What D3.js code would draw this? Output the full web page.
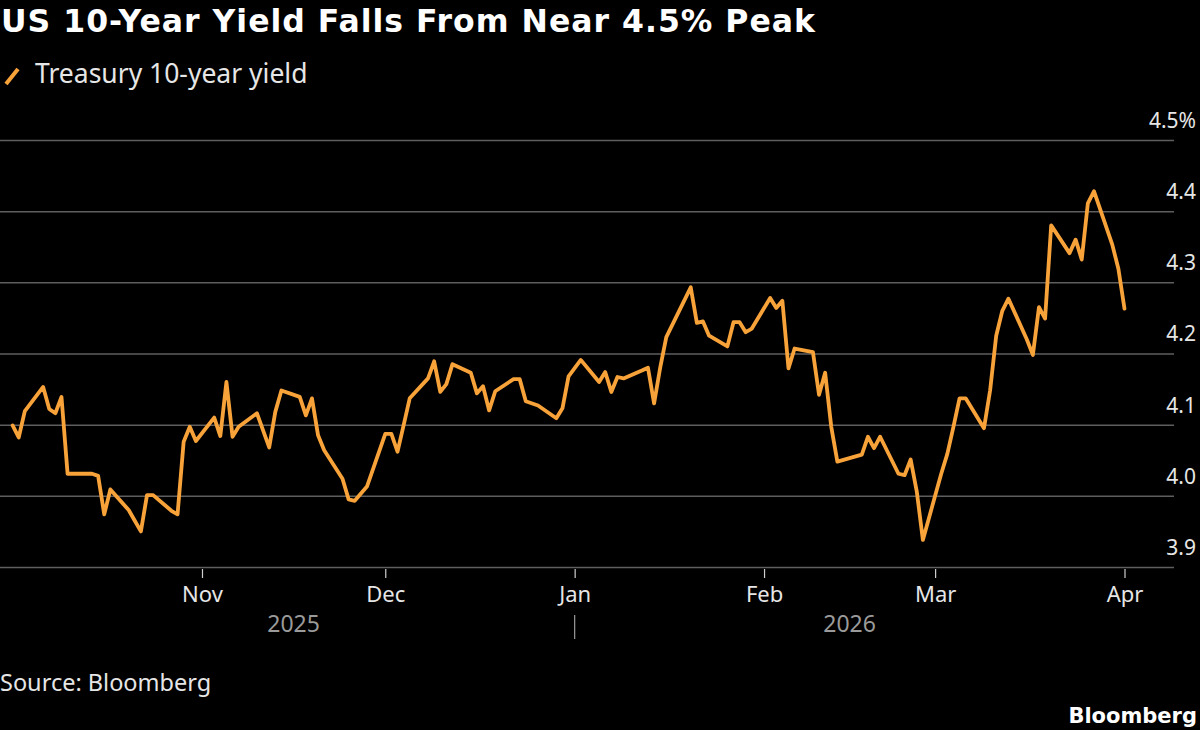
<!DOCTYPE html>
<html>
<head>
<meta charset="utf-8">
<script src="https://cdn.jsdelivr.net/npm/d3@7"></script>
<style>
  html, body { margin: 0; padding: 0; background: #000; }
  svg { display: block; }
  text { font-family: "Noto Sans", Lato, sans-serif; }
</style>
</head>
<body>
<div id="chart"></div>
<script>
// daily closes
const dates = [
  "2025-10-01","2025-10-02","2025-10-03","2025-10-06","2025-10-07","2025-10-08","2025-10-09","2025-10-10",
  "2025-10-14","2025-10-15","2025-10-16","2025-10-17","2025-10-20","2025-10-21","2025-10-22","2025-10-23","2025-10-24",
  "2025-10-27","2025-10-28","2025-10-29","2025-10-30","2025-10-31",
  "2025-11-03","2025-11-04","2025-11-05","2025-11-06","2025-11-07","2025-11-10","2025-11-12","2025-11-13","2025-11-14",
  "2025-11-17","2025-11-18","2025-11-19","2025-11-20","2025-11-21","2025-11-24","2025-11-25","2025-11-26","2025-11-28",
  "2025-12-01","2025-12-02","2025-12-03","2025-12-04","2025-12-05","2025-12-08","2025-12-09","2025-12-10","2025-12-11","2025-12-12",
  "2025-12-15","2025-12-16","2025-12-17","2025-12-18","2025-12-19","2025-12-22","2025-12-23","2025-12-24","2025-12-26",
  "2025-12-29","2025-12-30","2025-12-31",
  "2026-01-02","2026-01-05","2026-01-06","2026-01-07","2026-01-08","2026-01-09","2026-01-12","2026-01-13","2026-01-14",
  "2026-01-15","2026-01-16","2026-01-20","2026-01-21","2026-01-22","2026-01-23","2026-01-26","2026-01-27","2026-01-28",
  "2026-01-29","2026-01-30",
  "2026-02-02","2026-02-03","2026-02-04","2026-02-05","2026-02-06","2026-02-09","2026-02-10","2026-02-11","2026-02-12",
  "2026-02-13","2026-02-17","2026-02-18","2026-02-19","2026-02-20","2026-02-23","2026-02-24","2026-02-25","2026-02-26","2026-02-27",
  "2026-03-02","2026-03-03","2026-03-04","2026-03-05","2026-03-06","2026-03-09","2026-03-10","2026-03-11","2026-03-12","2026-03-13",
  "2026-03-16","2026-03-17","2026-03-18","2026-03-19","2026-03-20","2026-03-23","2026-03-24","2026-03-25","2026-03-26","2026-03-27",
  "2026-03-30","2026-03-31","2026-04-01"
];
const yields = [
  4.099,4.082,4.119,4.153,4.122,4.116,4.139,4.031,
  4.031,4.028,3.974,4.009,3.980,3.965,3.950,4.001,4.001,
  3.979,3.974,4.076,4.097,4.077,
  4.110,4.084,4.160,4.083,4.097,4.116,4.068,4.118,4.148,
  4.139,4.113,4.137,4.085,4.064,4.024,3.995,3.993,4.013,
  4.087,4.087,4.062,4.099,4.137,4.165,4.189,4.146,4.157,4.185,
  4.173,4.144,4.154,4.120,4.147,4.164,4.164,4.133,4.127,
  4.109,4.123,4.168,
  4.191,4.160,4.174,4.146,4.167,4.165,4.176,4.180,4.130,
  4.180,4.223,4.293,4.243,4.245,4.225,4.210,4.244,4.244,
  4.230,4.235,
  4.278,4.264,4.274,4.179,4.207,4.202,4.142,4.173,4.097,
  4.048,4.058,4.083,4.067,4.083,4.031,4.029,4.051,4.006,3.938,
  4.031,4.059,4.097,4.137,4.137,4.095,4.148,4.225,4.260,4.277,
  4.220,4.198,4.265,4.249,4.380,4.341,4.360,4.332,4.411,4.428,
  4.353,4.319,4.263
];

const yTicks = [3.9, 4.0, 4.1, 4.2, 4.3, 4.4, 4.5];
const monthTicks = ["2025-11-01","2025-12-01","2026-01-01","2026-02-01","2026-03-01","2026-04-01"];
const yearLabels = [
  { label: "2025", from: "2025-10-01", to: "2026-01-01" },
  { label: "2026", from: "2026-01-01", to: "2026-04-01" }
];

const title = "US 10-Year Yield Falls From Near 4.5% Peak";
const seriesName = "Treasury 10-year yield";
const source = "Source: Bloomberg";

const W = 1200, H = 730;
const lineColor = "#f8a23a";
const parse = d3.utcParse("%Y-%m-%d");

const data = dates.map((d, i) => ({ date: parse(d), value: yields[i] }));

const gridRight = 1174;
const x = d3.scaleUtc()
  .domain([parse("2025-10-01"), parse("2026-04-01")])
  .range([12.6, 1124.5]);
const y = d3.scaleLinear().domain([3.9, 4.5]).range([567, 140]);

const svg = d3.select("#chart").append("svg")
  .attr("width", W)
  .attr("height", H);

svg.append("rect").attr("width", W).attr("height", H).attr("fill", "#000");

// title + legend
svg.append("text")
  .attr("x", 1).attr("y", 32)
  .attr("fill", "#fff")
  .style("font-family", "'DejaVu Sans', sans-serif")
  .style("font-weight", "bold")
  .style("font-size", "31.5px")
  .style("letter-spacing", "1px")
  .text(title);

svg.append("line")
  .attr("x1", 6).attr("y1", 84).attr("x2", 18).attr("y2", 69)
  .attr("stroke", lineColor).attr("stroke-width", 4);

svg.append("text")
  .attr("x", 35).attr("y", 83)
  .attr("fill", "#e6e6e6")
  .style("font-size", "26.5px")
  .text(seriesName);

// y grid
const yAxis = svg.append("g")
  .attr("transform", `translate(${gridRight},0)`)
  .call(d3.axisLeft(y)
    .tickValues(yTicks)
    .tickSize(gridRight)
    .tickFormat(d => d === 4.5 ? "4.5%" : d3.format(".1f")(d)));

yAxis.select(".domain").remove();
yAxis.selectAll(".tick line").attr("stroke", "#5e5e5e").attr("stroke-width", 1.5);
yAxis.selectAll(".tick text")
  .attr("x", 1196 - gridRight)
  .attr("dy", "-0.6em")
  .attr("text-anchor", "end")
  .attr("fill", "#e6e6e6")
  .style("font-size", "21px")
  .style("font-family", "'Noto Sans', sans-serif");

// x axis
const xAxis = svg.append("g")
  .attr("transform", `translate(0,${y(3.9)})`)
  .call(d3.axisBottom(x)
    .tickValues(monthTicks.map(parse))
    .tickSize(11)
    .tickPadding(8)
    .tickFormat(d3.utcFormat("%b")));

xAxis.select(".domain").remove();
xAxis.selectAll(".tick line").attr("stroke", "#cfcfcf").attr("stroke-width", 1.2).attr("y1", 2);
xAxis.selectAll(".tick text")
  .attr("fill", "#e6e6e6")
  .style("font-size", "22px")
  .style("font-family", "'Noto Sans', sans-serif");

svg.append("g")
  .selectAll("text")
  .data(yearLabels)
  .join("text")
    .attr("x", d => (x(parse(d.from)) + x(parse(d.to))) / 2)
    .attr("y", 632)
    .attr("text-anchor", "middle")
    .attr("fill", "#9a9a9a")
    .style("font-size", "23px")
    .text(d => d.label);

// year separator at Jan
svg.append("line")
  .attr("x1", x(parse("2026-01-01"))).attr("x2", x(parse("2026-01-01")))
  .attr("y1", 615).attr("y2", 639)
  .attr("stroke", "#9a9a9a").attr("stroke-width", 1.2);

// the series
const line = d3.line()
  .x(d => x(d.date))
  .y(d => y(d.value));

svg.append("path")
  .datum(data)
  .attr("d", line)
  .attr("fill", "none")
  .attr("stroke", lineColor)
  .attr("stroke-width", 3.8)
  .attr("stroke-linejoin", "round")
  .attr("stroke-linecap", "round");

// footer
svg.append("text")
  .attr("x", 0).attr("y", 691)
  .attr("fill", "#e6e6e6")
  .style("font-size", "23.5px")
  .text(source);

svg.append("text")
  .attr("x", 1197).attr("y", 723)
  .attr("text-anchor", "end")
  .attr("fill", "#fff")
  .style("font-family", "'DejaVu Sans', sans-serif")
  .style("font-weight", "bold")
  .style("font-size", "21px")
  .text("Bloomberg");
</script>
</body>
</html>
